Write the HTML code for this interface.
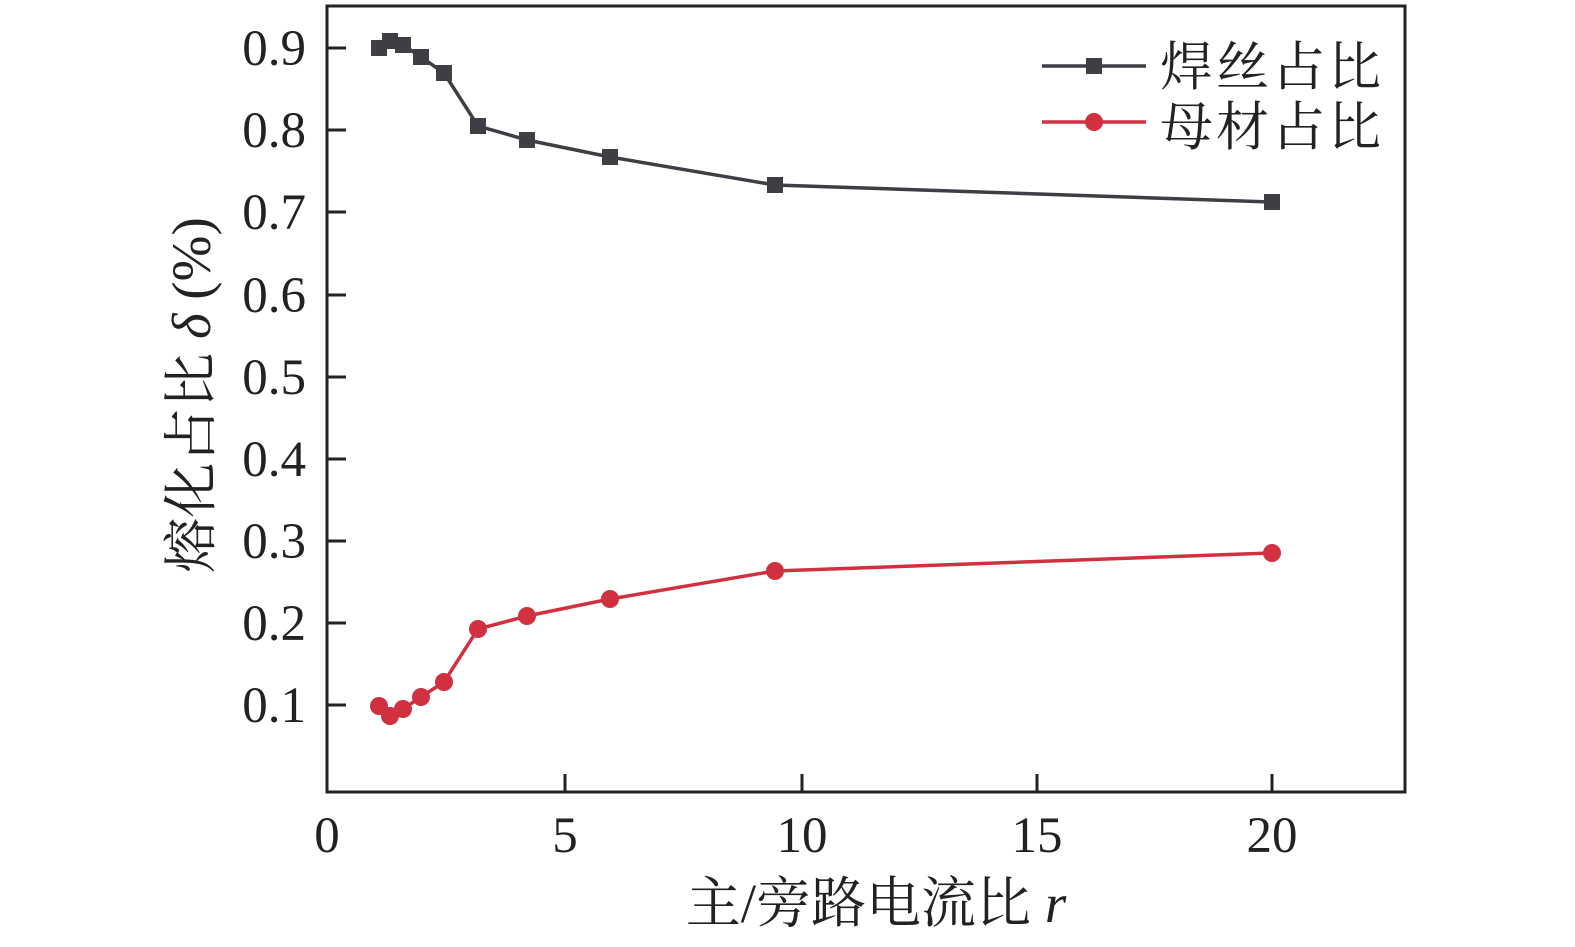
<!DOCTYPE html>
<html><head><meta charset="utf-8"><style>html,body{margin:0;padding:0;background:#fff;width:1575px;height:947px;overflow:hidden}</style></head><body>
<svg width="1575" height="947" xmlns="http://www.w3.org/2000/svg" font-family="'Liberation Serif','Noto Serif CJK SC',serif">
<rect x="327" y="6" width="1078" height="786" fill="none" stroke="#222" stroke-width="3"/>
<g stroke="#222" stroke-width="3">
<line x1="565" y1="792" x2="565" y2="774"/><line x1="802" y1="792" x2="802" y2="774"/><line x1="1037" y1="792" x2="1037" y2="774"/><line x1="1272" y1="792" x2="1272" y2="774"/>
<line x1="327" y1="48" x2="346" y2="48"/><line x1="327" y1="130" x2="346" y2="130"/><line x1="327" y1="212" x2="346" y2="212"/><line x1="327" y1="295" x2="346" y2="295"/><line x1="327" y1="377" x2="346" y2="377"/><line x1="327" y1="459" x2="346" y2="459"/><line x1="327" y1="541" x2="346" y2="541"/><line x1="327" y1="623" x2="346" y2="623"/><line x1="327" y1="705" x2="346" y2="705"/>
</g>
<g font-size="51" fill="#222" text-anchor="end">
<text x="306" y="65">0.9</text><text x="306" y="147">0.8</text><text x="306" y="229">0.7</text><text x="306" y="312">0.6</text><text x="306" y="394">0.5</text><text x="306" y="476">0.4</text><text x="306" y="558">0.3</text><text x="306" y="640">0.2</text><text x="306" y="722">0.1</text>
</g>
<g font-size="51" fill="#222" text-anchor="middle">
<text x="327" y="852">0</text><text x="565" y="852">5</text><text x="802" y="852">10</text><text x="1037" y="852">15</text><text x="1272" y="852">20</text>
<text x="876" y="922" font-size="55">主/旁路电流比 <tspan font-style="italic">r</tspan></text>
</g>
<text transform="translate(210,395) rotate(-90)" font-size="55" fill="#222" text-anchor="middle">熔化占比 <tspan font-style="italic">δ</tspan> (%)</text>
<polyline fill="none" stroke="#3d3f45" stroke-width="3.5" points="379,48 390,41 403,45 421,57 444,73 478,126 527,140 610,157 775,185 1272,202"/>
<g fill="#3d3f45">
<rect x="371" y="40" width="16" height="16"/><rect x="382" y="33" width="16" height="16"/><rect x="395" y="37" width="16" height="16"/><rect x="413" y="49" width="16" height="16"/><rect x="436" y="65" width="16" height="16"/><rect x="470" y="118" width="16" height="16"/><rect x="519" y="132" width="16" height="16"/><rect x="602" y="149" width="16" height="16"/><rect x="767" y="177" width="16" height="16"/><rect x="1264" y="194" width="16" height="16"/>
</g>
<polyline fill="none" stroke="#d0303f" stroke-width="3.5" points="379,706 390,716 403,709 421,697 444,682 478,629 527,616 610,599 775,571 1272,553"/>
<g fill="#d0303f">
<circle cx="379" cy="706" r="9"/><circle cx="390" cy="716" r="9"/><circle cx="403" cy="709" r="9"/><circle cx="421" cy="697" r="9"/><circle cx="444" cy="682" r="9"/><circle cx="478" cy="629" r="9"/><circle cx="527" cy="616" r="9"/><circle cx="610" cy="599" r="9"/><circle cx="775" cy="571" r="9"/><circle cx="1272" cy="553" r="9"/>
</g>
<line x1="1042" y1="66" x2="1146" y2="66" stroke="#3d3f45" stroke-width="3.5"/><rect x="1086" y="58" width="16" height="16" fill="#3d3f45"/>
<line x1="1042" y1="122" x2="1146" y2="122" stroke="#d0303f" stroke-width="3.5"/><circle cx="1094" cy="122" r="9" fill="#d0303f"/>
<g font-size="53" fill="#222"><text x="1160" y="85" letter-spacing="3">焊丝占比</text><text x="1160" y="145" letter-spacing="3">母材占比</text></g>
</svg>
</body></html>
